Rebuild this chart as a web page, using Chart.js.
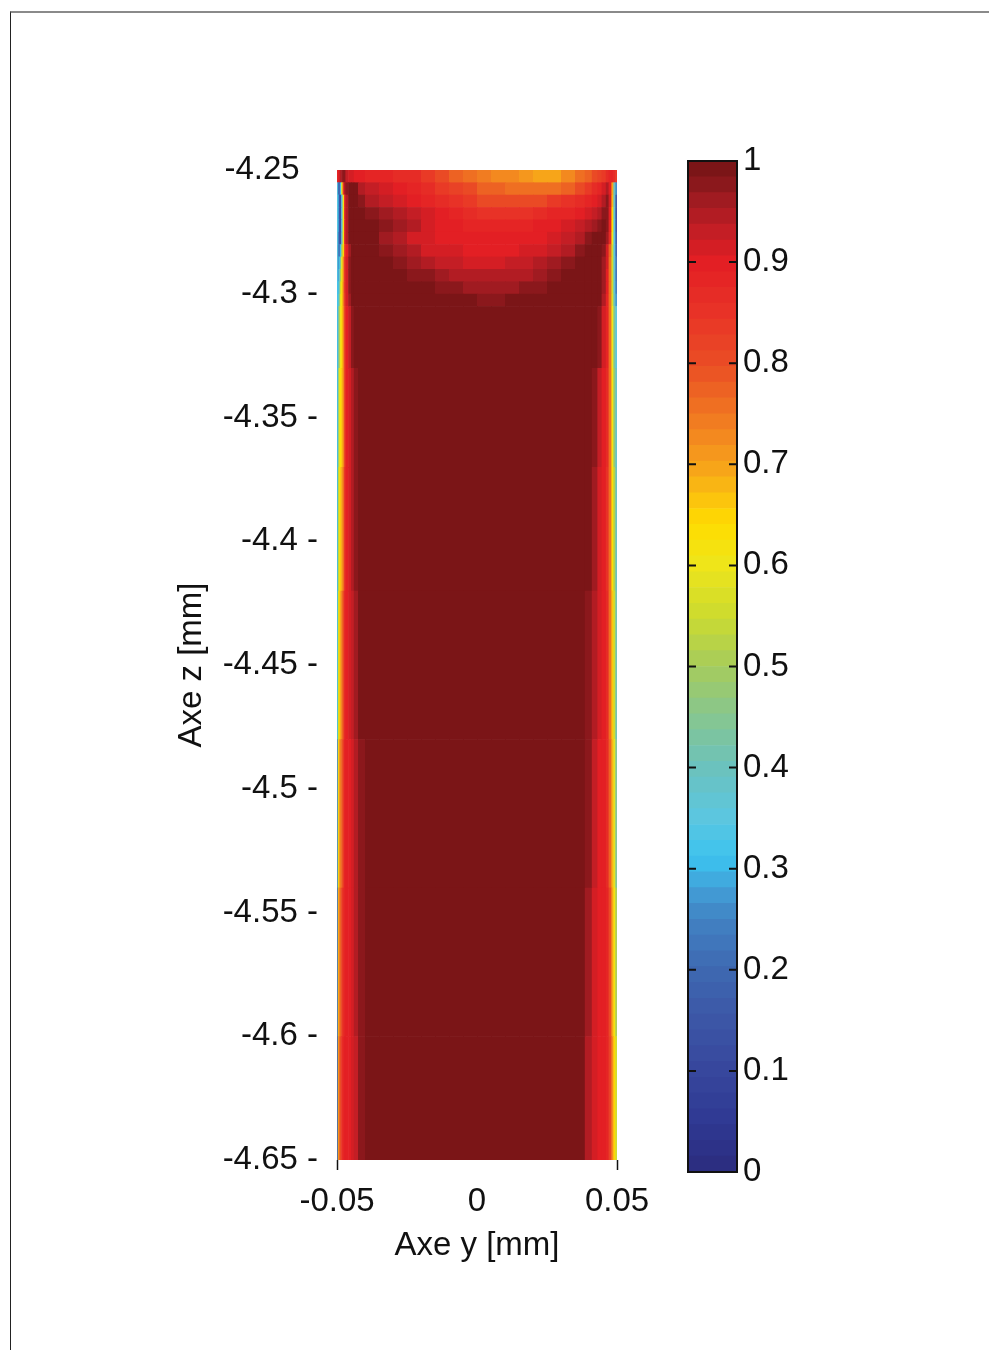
<!DOCTYPE html>
<html>
<head>
<meta charset="utf-8">
<script src="https://cdn.jsdelivr.net/npm/chart.js@4.4.1/dist/chart.umd.min.js"></script>
<style>
  html, body { margin: 0; padding: 0; background: #fff; }
  body { width: 989px; height: 1350px; position: relative; overflow: hidden; }
  #frame { position: absolute; left: 10px; top: 11px; width: 979px; height: 1339px;
           border-top: 2px solid #8a8a8a; border-left: 1px solid #222; }
  #main { position: absolute; left: 0; top: 0; }
  #bar { position: absolute; left: 650px; top: 0; }
</style>
</head>
<body>
<div id="frame"></div>
<canvas id="main" width="989" height="1350"></canvas>
<canvas id="bar" width="200" height="1350"></canvas>
<script>
// --- data ------------------------------------------------------------------
// column edges across the channel (Axe y, mm), fine near the walls
const yEdges = [-0.05, -0.0497, -0.0494, -0.049, -0.0485, -0.048, -0.0475, -0.047, -0.046, -0.045,
  -0.044, -0.0425, -0.04, -0.035, -0.03, -0.025, -0.02, -0.015, -0.01, -0.005, 0,
  0.005, 0.01, 0.015, 0.02, 0.025, 0.03, 0.035, 0.0385, 0.041, 0.043, 0.0445, 0.046,
  0.047, 0.048, 0.0487, 0.0494, 0.05];
// row edges along the channel (Axe z, mm), fine near the inlet
const zEdges = [-4.25, -4.255, -4.26, -4.265, -4.27, -4.275, -4.28, -4.285, -4.29, -4.295,
  -4.30, -4.305, -4.33, -4.37, -4.42, -4.48, -4.54, -4.60, -4.65];
// field value per cell, one row per z band (top to bottom), one entry per y column
const fieldValues = [
  [0.88,0.90,0.92,0.94,0.96,0.97,0.97,0.93,0.92,0.91,0.90,0.90,0.89,0.88,0.87,0.86,0.83,0.80,0.77,0.75,0.74,0.73,0.72,0.71,0.70,0.70,0.72,0.75,0.77,0.80,0.82,0.84,0.86,0.88,0.88,0.86,0.84],
  [0.35,0.22,0.15,0.30,0.60,0.85,0.95,0.98,1.00,1.00,1.00,0.95,0.93,0.92,0.90,0.89,0.87,0.84,0.82,0.80,0.78,0.77,0.76,0.75,0.75,0.76,0.78,0.80,0.83,0.86,0.89,0.92,0.95,0.90,0.70,0.40,0.25],
  [0.35,0.30,0.15,0.12,0.35,0.62,0.85,0.94,1.00,1.00,1.00,0.97,0.95,0.93,0.915,0.90,0.89,0.87,0.85,0.83,0.81,0.80,0.80,0.80,0.81,0.83,0.85,0.87,0.89,0.90,0.92,0.95,0.97,0.92,0.68,0.38,0.16],
  [0.35,0.30,0.15,0.12,0.35,0.62,0.85,0.94,1.00,1.00,1.00,1.00,0.98,0.96,0.94,0.925,0.91,0.895,0.875,0.86,0.85,0.85,0.85,0.85,0.86,0.875,0.89,0.90,0.91,0.93,0.95,0.97,0.97,0.90,0.65,0.36,0.15],
  [0.35,0.30,0.15,0.12,0.35,0.62,0.85,0.94,1.00,1.00,1.00,1.00,0.99,0.97,0.955,0.94,0.92,0.905,0.895,0.885,0.88,0.88,0.88,0.885,0.895,0.905,0.915,0.93,0.94,0.96,0.98,1.00,0.97,0.88,0.63,0.35,0.15],
  [0.35,0.28,0.15,0.14,0.38,0.62,0.85,0.94,0.99,1.00,1.00,1.00,0.985,0.96,0.94,0.92,0.91,0.905,0.90,0.90,0.895,0.895,0.895,0.90,0.905,0.915,0.93,0.95,0.97,0.99,1.00,1.00,0.96,0.87,0.60,0.35,0.18],
  [0.35,0.25,0.20,0.30,0.50,0.65,0.80,0.90,0.96,1.00,1.00,1.00,1.00,0.98,0.96,0.94,0.92,0.91,0.91,0.905,0.905,0.905,0.905,0.91,0.92,0.93,0.95,0.97,0.99,1.00,1.00,0.97,0.92,0.78,0.55,0.35,0.20],
  [0.35,0.25,0.30,0.45,0.60,0.72,0.83,0.91,0.97,1.00,1.00,1.00,1.00,1.00,0.98,0.96,0.94,0.93,0.925,0.92,0.92,0.92,0.925,0.93,0.94,0.96,0.98,1.00,1.00,1.00,1.00,0.96,0.91,0.76,0.55,0.36,0.22],
  [0.33,0.28,0.35,0.50,0.62,0.73,0.83,0.91,0.97,1.00,1.00,1.00,1.00,1.00,1.00,0.98,0.97,0.955,0.945,0.94,0.94,0.94,0.945,0.95,0.96,0.98,1.00,1.00,1.00,1.00,1.00,0.96,0.90,0.75,0.55,0.36,0.22],
  [0.32,0.30,0.40,0.55,0.63,0.74,0.83,0.91,0.97,1.00,1.00,1.00,1.00,1.00,1.00,1.00,0.99,0.98,0.97,0.965,0.96,0.96,0.965,0.97,0.98,0.99,1.00,1.00,1.00,1.00,1.00,0.96,0.90,0.75,0.55,0.37,0.24],
  [0.32,0.32,0.45,0.58,0.64,0.74,0.82,0.91,0.96,0.99,1.00,1.00,1.00,1.00,1.00,1.00,1.00,1.00,0.99,0.985,0.98,0.98,0.985,0.99,1.00,1.00,1.00,1.00,1.00,1.00,0.99,0.95,0.89,0.75,0.57,0.40,0.28],
  [0.30,0.40,0.50,0.60,0.65,0.72,0.80,0.90,0.93,0.97,1.00,1.00,1.00,1.00,1.00,1.00,1.00,1.00,1.00,1.00,1.00,1.00,1.00,1.00,1.00,1.00,1.00,1.00,1.00,1.00,0.97,0.92,0.88,0.75,0.60,0.45,0.35],
  [0.30,0.45,0.58,0.63,0.67,0.72,0.80,0.90,0.92,0.95,0.98,1.00,1.00,1.00,1.00,1.00,1.00,1.00,1.00,1.00,1.00,1.00,1.00,1.00,1.00,1.00,1.00,1.00,1.00,0.97,0.93,0.90,0.86,0.75,0.62,0.48,0.38],
  [0.30,0.50,0.62,0.66,0.70,0.76,0.83,0.90,0.91,0.94,0.97,1.00,1.00,1.00,1.00,1.00,1.00,1.00,1.00,1.00,1.00,1.00,1.00,1.00,1.00,1.00,1.00,1.00,0.99,0.96,0.92,0.90,0.85,0.75,0.64,0.52,0.40],
  [0.30,0.55,0.65,0.70,0.74,0.80,0.86,0.90,0.91,0.93,0.96,0.99,1.00,1.00,1.00,1.00,1.00,1.00,1.00,1.00,1.00,1.00,1.00,1.00,1.00,1.00,1.00,1.00,0.98,0.94,0.91,0.90,0.86,0.76,0.66,0.55,0.42],
  [0.25,0.62,0.70,0.74,0.78,0.84,0.88,0.90,0.90,0.92,0.95,0.98,1.00,1.00,1.00,1.00,1.00,1.00,1.00,1.00,1.00,1.00,1.00,1.00,1.00,1.00,1.00,0.99,0.97,0.93,0.90,0.90,0.87,0.78,0.68,0.58,0.45],
  [0.22,0.68,0.73,0.77,0.82,0.87,0.89,0.90,0.90,0.91,0.94,0.98,1.00,1.00,1.00,1.00,1.00,1.00,1.00,1.00,1.00,1.00,1.00,1.00,1.00,1.00,1.00,0.99,0.96,0.92,0.90,0.90,0.88,0.80,0.70,0.62,0.50],
  [0.20,0.70,0.76,0.80,0.85,0.88,0.90,0.90,0.90,0.91,0.93,0.97,1.00,1.00,1.00,1.00,1.00,1.00,1.00,1.00,1.00,1.00,1.00,1.00,1.00,1.00,1.00,0.99,0.95,0.92,0.90,0.90,0.88,0.82,0.72,0.65,0.55]
];
// axis ticks
const yTicks = [-0.05, 0, 0.05];
const yTickLabels = ['-0.05', '0', '0.05'];
const zTicks = [-4.65, -4.6, -4.55, -4.5, -4.45, -4.4, -4.35, -4.3, -4.25];
const zTickLabels = ['-4.65', '-4.6', '-4.55', '-4.5', '-4.45', '-4.4', '-4.35', '-4.3', '-4.25'];
const cbTicks = [0, 0.1, 0.2, 0.3, 0.4, 0.5, 0.6, 0.7, 0.8, 0.9, 1];
const cbTickLabels = ['0', '0.1', '0.2', '0.3', '0.4', '0.5', '0.6', '0.7', '0.8', '0.9', '1'];

// --- colour map (64 levels, jet-like as printed) ----------------------------
const nLevels = 64;
const cmapStops = [
  [0.00,'#2b2c7e'],[0.05,'#2f3993'],[0.10,'#37479d'],[0.15,'#3c56a6'],[0.20,'#3e69b1'],
  [0.25,'#4182c3'],[0.28,'#42a0d8'],[0.31,'#3cc3ef'],[0.35,'#5bc6e0'],[0.40,'#6cc2bd'],
  [0.45,'#86c690'],[0.50,'#a6cc5c'],[0.55,'#cddb2f'],[0.60,'#eee51a'],[0.64,'#ffdd00'],
  [0.67,'#fbbf10'],[0.70,'#f6a01b'],[0.75,'#f07522'],[0.80,'#ea4c25'],[0.85,'#e83327'],
  [0.90,'#e31e24'],[0.93,'#c41e25'],[0.96,'#a11b21'],[0.975,'#8e181d'],[0.985,'#7c1518'],[1.00,'#7a1416']
];
function hexRgb(h){ return [1,3,5].map(i => parseInt(h.substr(i,2),16)); }
function cmap(v){
  for (let i = 1; i < cmapStops.length; i++){
    if (v <= cmapStops[i][0]){
      const [v0,c0] = cmapStops[i-1], [v1,c1] = cmapStops[i];
      const t = (v - v0) / (v1 - v0), a = hexRgb(c0), b = hexRgb(c1);
      return 'rgb(' + a.map((x,k) => Math.round(x + (b[k]-x)*t)).join(',') + ')';
    }
  }
  return cmapStops[cmapStops.length-1][1];
}
const levelColors = [];
for (let i = 0; i < nLevels; i++) levelColors.push(cmap((i + 0.5) / nLevels));
function levelColor(v){ return levelColors[Math.min(nLevels-1, Math.max(0, Math.floor(v * nLevels)))]; }

const FONT = { family: '"Liberation Sans", Arial, Helvetica, sans-serif', size: 33 };

// heat cells drawn through the chart scales
const heatPlugin = {
  id: 'heat',
  beforeDatasetsDraw(chart){
    const { ctx, chartArea: a, scales: { x, y } } = chart;
    ctx.save();
    ctx.beginPath(); ctx.rect(a.left, a.top, a.right - a.left, a.bottom - a.top); ctx.clip();
    fieldValues.forEach((row, r) => {
      const y0 = y.getPixelForValue(zEdges[r]), y1 = y.getPixelForValue(zEdges[r+1]);
      row.forEach((v, c) => {
        const x0 = x.getPixelForValue(yEdges[c]), x1 = x.getPixelForValue(yEdges[c+1]);
        ctx.fillStyle = levelColor(v);
        ctx.fillRect(x0, y0, x1 - x0 + 0.6, y1 - y0 + 0.6);
      });
    });
    ctx.restore();
  }
};

new Chart(document.getElementById('main'), {
  type: 'scatter',
  data: { datasets: [] },
  plugins: [heatPlugin],
  options: {
    responsive: false, animation: false,
    layout: { padding: { left: 160, top: 170, right: 372, bottom: 80 } },
    plugins: { legend: { display: false }, tooltip: { enabled: false } },
    scales: {
      x: {
        type: 'linear', min: -0.05, max: 0.05,
        afterBuildTicks: s => { s.ticks = yTicks.map(v => ({ value: v })); },
        afterFit: s => { s.height = 110; },
        ticks: { font: FONT, color: '#111', padding: 12, maxRotation: 0,
                 callback: (v, i) => yTickLabels[i] },
        grid: { display: true, drawOnChartArea: false, drawTicks: true, tickLength: 10,
                tickWidth: 1.5, tickColor: c => (c.tick && c.tick.value === 0) ? 'rgba(0,0,0,0)' : '#111' },
        border: { display: false },
        title: { display: true, text: 'Axe y [mm]', font: FONT, color: '#111', padding: { bottom: 4 } }
      },
      y: {
        type: 'linear', min: -4.65, max: -4.25,
        afterBuildTicks: s => { s.ticks = zTicks.map(v => ({ value: v })); },
        afterFit: s => { s.width = 177; },
        ticks: { font: FONT, color: '#111', padding: 19,
                 callback: (v, i) => zTickLabels[i] === '-4.25' ? '-4.25\u00a0\u00a0' : zTickLabels[i] + ' -' },
        grid: { display: false, drawTicks: false },
        border: { display: false },
        title: { display: true, text: 'Axe z [mm]', font: FONT, color: '#111', padding: { top: 12 } }
      }
    }
  }
});

// colour bar
const cbFramePlugin = {
  id: 'cbframe',
  afterDraw(chart){
    const { ctx, chartArea: a, scales: { y } } = chart;
    ctx.save();
    ctx.strokeStyle = '#111'; ctx.lineWidth = 2;
    ctx.strokeRect(a.left, a.top, a.right - a.left, a.bottom - a.top);
    cbTicks.forEach(v => {
      if (v === 0 || v === 1) return;
      const p = y.getPixelForValue(v);
      ctx.beginPath();
      ctx.moveTo(a.left, p); ctx.lineTo(a.left + 8, p);
      ctx.moveTo(a.right - 8, p); ctx.lineTo(a.right, p);
      ctx.stroke();
    });
    ctx.restore();
  }
};
const cbDatasets = levelColors.map((col, i) => ({
  data: [[i / nLevels, (i + 1) / nLevels]],
  backgroundColor: col, borderWidth: 0, grouped: false,
  barPercentage: 1, categoryPercentage: 1
}));
new Chart(document.getElementById('bar'), {
  type: 'bar',
  data: { labels: ['c'], datasets: cbDatasets },
  plugins: [cbFramePlugin],
  options: {
    responsive: false, animation: false,
    layout: { padding: { left: 38, top: 161, right: 33, bottom: 178 } },
    plugins: { legend: { display: false }, tooltip: { enabled: false } },
    scales: {
      x: { display: false },
      y: {
        position: 'right', min: 0, max: 1,
        afterBuildTicks: s => { s.ticks = cbTicks.map(v => ({ value: v })); },
        afterFit: s => { s.width = 80; },
        ticks: { font: FONT, color: '#111', padding: 6, callback: (v, i) => cbTickLabels[i] },
        grid: { display: false, drawTicks: false },
        border: { display: false }
      }
    }
  }
});
</script>
</body>
</html>
